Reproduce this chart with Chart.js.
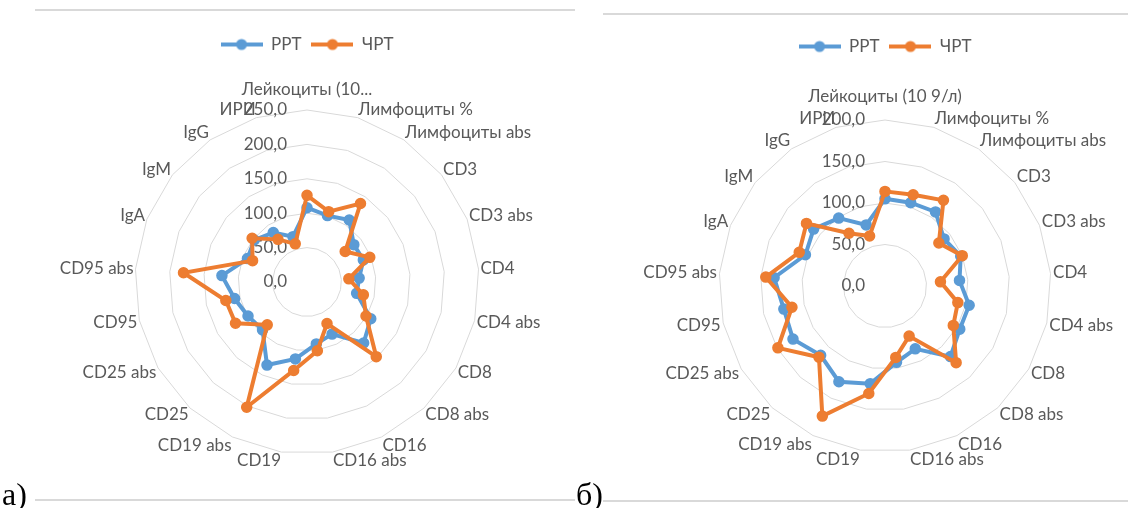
<!DOCTYPE html>
<html><head><meta charset="utf-8">
<script src="https://cdn.jsdelivr.net/npm/chart.js@4.4.1/dist/chart.umd.min.js"></script>
<style>
html,body{margin:0;padding:0;width:1128px;height:508px;overflow:hidden;background:#fff;}
#wrap{position:relative;width:1128px;height:508px;overflow:hidden;}
canvas{position:absolute;top:0;}
.hl{position:absolute;height:2px;background:#d9d9d9;}
.tag{position:absolute;font-family:"Liberation Serif","Times New Roman",serif;font-size:32px;color:#000;line-height:1;}
</style></head><body>
<div id="wrap">
<div class="hl" style="left:35px;top:9px;width:540px"></div>
<div class="hl" style="left:603px;top:13px;width:525px"></div>
<div class="hl" style="left:35px;top:499px;width:540px"></div>
<div class="hl" style="left:603px;top:500px;width:525px"></div>
<canvas id="ca" width="614" height="508" style="left:0px"></canvas>
<canvas id="cb" width="520" height="508" style="left:625px"></canvas>
<div class="tag" style="left:2px;top:478px">а)</div>
<div class="tag" style="left:576px;top:478px">б)</div>
</div>
<script>
const categoriesA = ['Лейкоциты (10...', 'Лимфоциты %', 'Лимфоциты abs', 'CD3', 'CD3 abs', 'CD4', 'CD4 abs', 'CD8', 'CD8 abs', 'CD16', 'CD16 abs', 'CD19', 'CD19 abs', 'CD25', 'CD25 abs', 'CD95', 'CD95 abs', 'IgA', 'IgM', 'IgG', 'ИРИ'];
const categoriesB = ['Лейкоциты (10 9/л)', 'Лимфоциты %', 'Лимфоциты abs', 'CD3', 'CD3 abs', 'CD4', 'CD4 abs', 'CD8', 'CD8 abs', 'CD16', 'CD16 abs', 'CD19', 'CD19 abs', 'CD25', 'CD25 abs', 'CD95', 'CD95 abs', 'IgA', 'IgM', 'IgG', 'ИРИ'];
const seriesNames = ['РРТ', 'ЧРТ'];
const rrtA  = [108, 101, 109, 87, 88, 76, 74, 107, 121, 84, 91, 113, 134, 95, 99, 108, 124, 93, 98, 87, 69];
const chrtA = [126, 107, 138, 71, 98, 61, 84, 99, 148, 67, 101, 130, 202, 85, 120, 121, 180, 85, 102, 75, 58];
const rrtB  = [105, 105, 108, 91, 98, 90, 104, 104, 116, 84, 93, 119, 128, 114, 128, 125, 134, 103, 110, 99, 77];
const chrtB = [114, 115, 125, 83, 100, 67, 90, 95, 126, 67, 87, 131, 174, 117, 149, 115, 144, 111, 121, 77, 63];
const axisMaxA = 250, axisMaxB = 200, axisStep = 50;

const BLUE = '#5B9BD5', ORANGE = '#ED7D31', TXT = '#595959';
const FONT = 'Lato, "Open Sans", sans-serif';

function legendIcon(color) {
  const c = document.createElement('canvas');
  c.width = 42; c.height = 14;
  const g = c.getContext('2d');
  g.strokeStyle = color; g.lineWidth = 4;
  g.beginPath(); g.moveTo(0, 7); g.lineTo(42, 7); g.stroke();
  g.fillStyle = color; g.beginPath(); g.arc(21, 7, 5.5, 0, Math.PI * 2); g.fill();
  return c;
}
const icons = [legendIcon(BLUE), legendIcon(ORANGE)];

function legendGap(extra) {
  return {
    id: 'legendGap',
    beforeInit(chart) {
      const lg = chart.legend;
      if (!lg) return;
      const orig = lg.fit;
      lg.fit = function () { orig.call(lg); lg.height += extra; };
    }
  };
}

// value-axis labels, right-aligned left of the vertical axis (Excel style)
const tickLabels = {
  id: 'tickLabels',
  beforeDatasetsDraw(chart) {
    const s = chart.scales.r, ctx = chart.ctx;
    ctx.save();
    ctx.font = '17px ' + FONT;
    ctx.fillStyle = TXT;
    ctx.textAlign = 'right';
    ctx.textBaseline = 'middle';
    s.ticks.forEach(t => {
      const y = s.yCenter - s.getDistanceFromCenterForValue(t.value);
      ctx.fillText(t.value.toFixed(1).replace('.', ','), s.xCenter - 20, y);
    });
    ctx.restore();
  }
};

// category labels placed around the scale (Excel style)
function categoryLabels(gap, topExtra) {
  return {
    id: 'categoryLabels',
    beforeDatasetsDraw(chart) {
      const s = chart.scales.r, ctx = chart.ctx;
      ctx.save();
      ctx.font = '17px ' + FONT;
      ctx.fillStyle = TXT;
      ctx.textBaseline = 'middle';
      chart.data.labels.forEach((lab, i) => {
        const ang = s.getIndexAngle(i);
        const sn = Math.sin(ang), cs = Math.cos(ang);
        const p = s.getPointPosition(i, s.drawingArea + gap);
        let y = p.y - cs * 7;
        if (i === 0) y -= topExtra;
        ctx.textAlign = Math.abs(sn) < 0.05 ? 'center' : (sn > 0 ? 'left' : 'right');
        ctx.fillText(lab, p.x, y);
      });
      ctx.restore();
    }
  };
}

function ds(label, data, color, order) {
  return {
    label, data, order,
    borderColor: color, backgroundColor: color,
    pointBackgroundColor: color, pointBorderColor: color,
    borderWidth: 4, pointRadius: 5, pointBorderWidth: 1.5, pointHoverRadius: 5,
    fill: false, tension: 0
  };
}

function makeChart(id, cats, s1, s2, max, pad, gap, lblGap, topExtra) {
  return new Chart(document.getElementById(id), {
    type: 'radar',
    data: { labels: cats, datasets: [ds(seriesNames[0], s1, BLUE, 1), ds(seriesNames[1], s2, ORANGE, 0)] },
    options: {
      responsive: false, animation: false, devicePixelRatio: 1,
      layout: { padding: pad },
      plugins: {
        tooltip: { enabled: false },
        legend: {
          position: 'top',
          labels: {
            usePointStyle: true, pointStyleWidth: 42, padding: 10,
            color: TXT, font: { family: FONT, size: 17 },
            sort: (a, b) => a.datasetIndex - b.datasetIndex,
            generateLabels(chart) {
              const items = Chart.defaults.plugins.legend.labels.generateLabels(chart);
              items.forEach(it => { it.pointStyle = icons[it.datasetIndex]; });
              return items;
            }
          }
        }
      },
      scales: {
        r: {
          min: 0, max: max,
          ticks: { stepSize: axisStep, display: false },
          grid: { color: '#d9d9d9', lineWidth: 1, circular: false },
          angleLines: { display: false },
          pointLabels: { display: false }
        }
      }
    },
    plugins: [legendGap(gap), tickLabels, categoryLabels(lblGap, topExtra)]
  });
}

function go() {
  makeChart('ca', categoriesA, rrtA, chrtA, axisMaxA, { top: 26, bottom: 54, left: 0, right: 0 }, 47, 2, 11);
  makeChart('cb', categoriesB, rrtB, chrtB, axisMaxB, { top: 28, bottom: 56, left: 0, right: 0 }, 55, 2.5, 14);
}
if (document.fonts && document.fonts.load) {
  document.fonts.load('17px Lato').then(go, go);
} else { go(); }
</script>
</body></html>
